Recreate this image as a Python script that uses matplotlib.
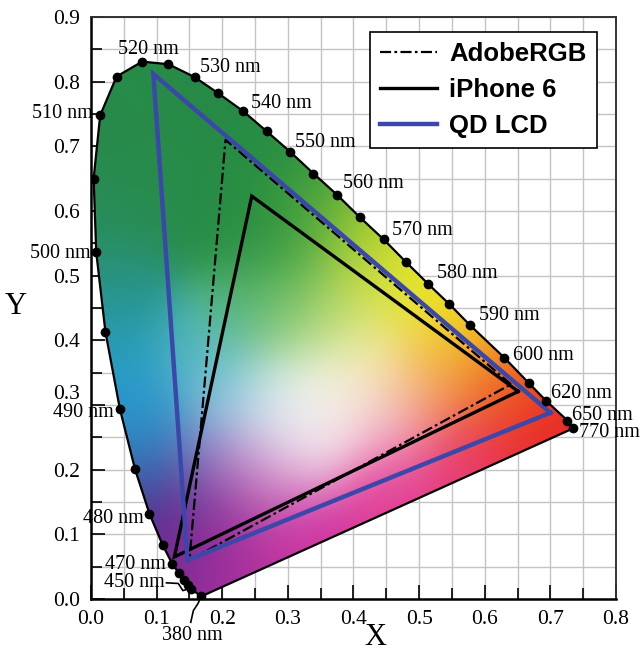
import numpy as np
import matplotlib
matplotlib.use("Agg")
import matplotlib.pyplot as plt
from matplotlib.patches import Polygon
from matplotlib.lines import Line2D
from matplotlib.font_manager import FontProperties

# ---------------- data ----------------
# spectral locus (wavelength nm, x, y); marked = drawn with a dot
locus_wl = [380, 420, 440, 450, 455, 460, 465, 470, 475, 480, 485, 490, 495, 500,
            505, 510, 515, 520, 525, 530, 535, 540, 545, 550, 555, 560, 565, 570,
            575, 580, 585, 590, 600, 610, 620, 650, 770]
locus_x = [0.168, 0.167, 0.160, 0.153, 0.148, 0.141, 0.134, 0.124, 0.109, 0.089,
           0.067, 0.044, 0.022, 0.008, 0.004, 0.014, 0.039, 0.078, 0.118, 0.158,
           0.194, 0.231, 0.268, 0.303, 0.339, 0.375, 0.410, 0.446, 0.480, 0.514,
           0.546, 0.578, 0.630, 0.667, 0.694, 0.726, 0.735]
locus_y = [0.004, 0.005, 0.010, 0.016, 0.022, 0.030, 0.040, 0.054, 0.084, 0.132,
           0.201, 0.294, 0.413, 0.536, 0.650, 0.748, 0.808, 0.831, 0.827, 0.807,
           0.782, 0.755, 0.723, 0.692, 0.658, 0.625, 0.590, 0.556, 0.521, 0.487,
           0.456, 0.423, 0.373, 0.334, 0.306, 0.276, 0.264]
marked_wl = [380, 450, 455, 460, 465, 470, 475, 480, 485, 490, 495, 500, 505, 510,
             515, 520, 525, 530, 535, 540, 545, 550, 555, 560, 565, 570, 575, 580,
             585, 590, 600, 610, 620, 650, 770]

# wavelength labels: text, x, y, horizontal alignment
label_text = ["520 nm", "530 nm", "540 nm", "550 nm", "560 nm", "570 nm", "580 nm",
              "590 nm", "600 nm", "620 nm", "650 nm", "770 nm",
              "510 nm", "500 nm", "490 nm", "480 nm", "470 nm", "450 nm", "380 nm"]
label_x = [0.088, 0.166, 0.244, 0.311, 0.384, 0.459, 0.527, 0.591, 0.643, 0.701,
           0.733, 0.744, 0.003, 0.000, 0.034, 0.081, 0.114, 0.113, 0.155]
label_y = [0.849, 0.822, 0.767, 0.706, 0.643, 0.570, 0.504, 0.439, 0.377, 0.318,
           0.284, 0.257, 0.751, 0.535, 0.288, 0.125, 0.054, 0.025, -0.056]
label_ha = ["center", "left", "left", "left", "left", "left", "left", "left", "left",
            "left", "left", "left", "right", "right", "right", "right", "right",
            "right", "center"]

# gamut triangles (R, G, B vertices)
adobe_x = [0.640, 0.205, 0.150]
adobe_y = [0.332, 0.710, 0.060]
iphone_x = [0.651, 0.245, 0.127]
iphone_y = [0.321, 0.623, 0.065]
qd_x = [0.700, 0.095, 0.147]
qd_y = [0.288, 0.812, 0.060]
series_names = ["AdobeRGB", "iPhone 6", "QD LCD"]

x_ticks = [0.0, 0.1, 0.2, 0.3, 0.4, 0.5, 0.6, 0.7, 0.8]
y_ticks = [0.0, 0.1, 0.2, 0.3, 0.4, 0.5, 0.6, 0.7, 0.8, 0.9]

# colour anchors for the chromaticity fill (style)
anchors = [
    (0.08, 0.80, (40, 140, 72)), (0.02, 0.75, (40, 138, 75)), (0.18, 0.76, (38, 138, 70)),
    (0.28, 0.68, (40, 142, 68)), (0.12, 0.62, (40, 140, 75)), (0.22, 0.58, (38, 138, 68)),
    (0.27, 0.56, (40, 145, 62)),
    (0.01, 0.60, (40, 140, 85)), (0.03, 0.50, (40, 145, 120)), (0.03, 0.42, (40, 155, 175)),
    (0.05, 0.32, (38, 155, 205)), (0.08, 0.26, (42, 150, 205)), (0.07, 0.21, (45, 120, 185)),
    (0.10, 0.16, (75, 45, 135)), (0.12, 0.09, (100, 40, 145)), (0.16, 0.04, (145, 45, 155)),
    (0.22, 0.07, (185, 50, 160)), (0.32, 0.10, (208, 50, 160)), (0.45, 0.17, (225, 60, 150)),
    (0.57, 0.23, (232, 55, 110)), (0.67, 0.28, (232, 35, 40)), (0.63, 0.32, (238, 80, 30)),
    (0.60, 0.36, (240, 160, 30)), (0.55, 0.42, (240, 222, 30)), (0.48, 0.49, (232, 230, 40)),
    (0.41, 0.55, (175, 210, 50)), (0.34, 0.60, (85, 170, 60)), (0.30, 0.49, (95, 180, 80)),
    (0.31, 0.41, (165, 215, 130)), (0.24, 0.45, (80, 180, 130)), (0.34, 0.29, (248, 248, 246)),
    (0.37, 0.32, (248, 246, 238)), (0.29, 0.30, (232, 242, 246)),
    (0.30, 0.23, (240, 215, 232)), (0.22, 0.31, (140, 205, 230)), (0.19, 0.22, (160, 130, 200)),
    (0.19, 0.13, (135, 50, 150)), (0.42, 0.37, (248, 238, 160)), (0.44, 0.27, (242, 180, 205)),
    (0.17, 0.37, (80, 182, 190)), (0.38, 0.45, (200, 222, 105)), (0.52, 0.33, (245, 170, 115)),
    (0.26, 0.18, (205, 115, 190)),
]

# ---------------- figure ----------------
plt.rcParams["font.family"] = ["Liberation Serif", "DejaVu Serif"]
fig = plt.figure(figsize=(6.44, 6.52), dpi=100)
ax = fig.add_axes([0.1413, 0.0813, 0.8152, 0.8926])
ax.set_xlim(0, 0.8)
ax.set_ylim(0, 0.9)

# grid
ax.set_xticks(np.arange(0, 0.81, 0.05), minor=True)
ax.set_yticks(np.arange(0, 0.91, 0.05), minor=True)
ax.set_xticks(x_ticks)
ax.set_yticks(y_ticks)
ax.set_xticklabels([f"{v:.1f}" for v in x_ticks])
# the 0.3 label sits slightly raised in the original: drawn separately below
ax.set_yticklabels(["" if v == 0.3 else f"{v:.1f}" for v in y_ticks])
ax.grid(True, which="both", color="#c4c4c4", lw=1.0)
ax.set_axisbelow(True)
ax.tick_params(which="both", direction="in", top=False, right=False, color="black",
               width=1.2, labelsize=15.5, pad=8)
ax.tick_params(which="major", length=10)
ax.tick_params(which="minor", length=8)
for s in ["left", "bottom"]:
    ax.spines[s].set_linewidth(1.8)
for s in ["top", "right"]:
    ax.spines[s].set_linewidth(1.4)
    ax.spines[s].set_color("#333333")
ax.text(-0.021, 0.3 + 0.017, f"{y_ticks[3]:.1f}", transform=ax.get_yaxis_transform(),
        ha="right", va="center", fontsize=15.5, clip_on=False)

# colour fill
gx = np.linspace(0, 0.76, 380)
gy = np.linspace(0, 0.86, 430)
GX, GY = np.meshgrid(gx, gy)
sig = 0.055
logw = np.stack([-((GX - a[0]) ** 2 + (GY - a[1]) ** 2) / (2 * sig ** 2) for a in anchors])
logw -= logw.max(axis=0, keepdims=True)
w = np.exp(logw)
w /= w.sum(axis=0, keepdims=True)
cols = np.array([a[2] for a in anchors], dtype=float) / 255.0
img = np.einsum("kij,kc->ijc", w, cols)
img = np.clip(img, 0, 1)

poly = Polygon(np.column_stack([locus_x, locus_y]), closed=True, facecolor="none",
               edgecolor="none", transform=ax.transData)
ax.add_patch(poly)
im = ax.imshow(img, extent=[0, 0.76, 0, 0.86], origin="lower", interpolation="bilinear",
               aspect="auto", zorder=1)
im.set_clip_path(poly)

# locus outline and dots
ax.plot(locus_x + [locus_x[0]], locus_y + [locus_y[0]], color="black", lw=1.6, zorder=4)
mk = [i for i, v in enumerate(locus_wl) if v in marked_wl]
ax.plot([locus_x[i] for i in mk], [locus_y[i] for i in mk], "o", color="black", ms=6,
        zorder=5)

# triangles
ax.plot(adobe_x + [adobe_x[0]], adobe_y + [adobe_y[0]], color="black", lw=1.6,
        dashes=(5, 1.5, 1.2, 1.5), zorder=3)
ax.plot(iphone_x + [iphone_x[0]], iphone_y + [iphone_y[0]], color="black", lw=2.4,
        zorder=3, solid_joinstyle="miter")
ax.plot(qd_x + [qd_x[0]], qd_y + [qd_y[0]], color="#3b48aa", lw=3.2, zorder=3,
        solid_joinstyle="miter")

# labels
for t, x, y, ha in zip(label_text, label_x, label_y, label_ha):
    ax.text(x, y, t, ha=ha, va="center", fontsize=14.5, clip_on=False, zorder=6)

# leader lines for 450 nm and 380 nm
ax.plot([0.115, 0.133, 0.140, 0.150], [0.025, 0.024, 0.013, 0.016], color="black",
        lw=1.2, clip_on=False, zorder=6)
ax.plot([0.152, 0.156, 0.163, 0.168], [-0.036, -0.018, -0.007, 0.004], color="black",
        lw=1.2, clip_on=False, zorder=6)

ax.set_xlabel("X", fontsize=22, ha="center", va="center")
ax.set_ylabel("Y", fontsize=22, rotation=0, ha="center", va="center")
ax.xaxis.set_label_coords(0.541, -0.067)
ax.yaxis.set_label_coords(-0.143, 0.503)

handles = [Line2D([], [], color="black", lw=1.6, dashes=(5, 1.5, 1.2, 1.5)),
           Line2D([], [], color="black", lw=2.4),
           Line2D([], [], color="#3b48aa", lw=3.2)]
leg = ax.legend(handles, series_names, loc="upper right", bbox_to_anchor=(0.964, 0.974),
                prop=FontProperties(family="Liberation Sans", weight="bold", size=18.5),
                fancybox=False, edgecolor="black", framealpha=1, handlelength=2.2,
                borderpad=0.4, labelspacing=0.45, handletextpad=0.5, borderaxespad=0)
leg.get_frame().set_linewidth(1.2)
leg.set_zorder(10)

fig.savefig("out.png", dpi=100)
